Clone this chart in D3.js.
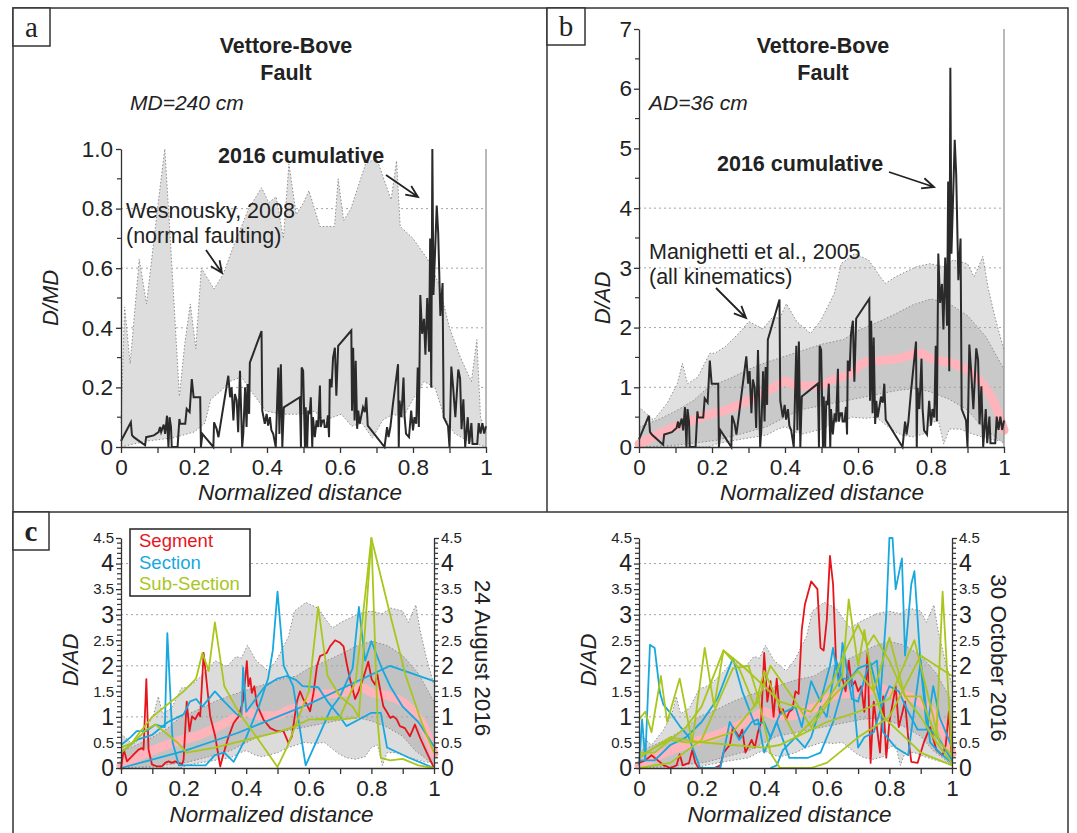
<!DOCTYPE html>
<html>
<head>
<meta charset="utf-8">
<script src="https://cdnjs.cloudflare.com/ajax/libs/d3/7.8.5/d3.min.js"></script>
<style>
  body { margin: 0; background: #fff; }
  svg { display: block; }
</style>
</head>
<body>
<div id="fig"></div>
<script>
// ---- data ----
// 2016 cumulative slip along the Vettore-Bove fault, D/MD
var cumulative = [[0,0.02],[0.027,0.083],[0.03,0.04],[0.035,0.033],[0.066,0.006],[0.069,0.033],[0.09,0.039],[0.103,0.05],[0.107,0.067],[0.11,0.05],[0.117,0.075],[0.121,0.044],[0.126,0.105],[0.13,0],[0.133,0.1],[0.137,0.067],[0.139,0],[0.155,0],[0.16,0.094],[0.162,0.078],[0.176,0.078],[0.18,0.128],[0.188,0.117],[0.194,0.228],[0.199,0.167],[0.217,0.167],[0.219,0],[0.223,0.044],[0.253,0],[0.255,0.083],[0.262,0.061],[0.267,0.033],[0.294,0.239],[0.299,0.167],[0.303,0.2],[0.308,0.089],[0.312,0.178],[0.317,0.156],[0.321,0.05],[0.326,0.256],[0.332,0],[0.335,0.044],[0.34,0.2],[0.344,0.067],[0.347,0.211],[0.351,0.111],[0.353,0.283],[0.385,0.389],[0.387,0.122],[0.394,0.078],[0.399,0.111],[0.403,0.072],[0.408,0.1],[0.412,0.056],[0.417,0.044],[0.424,0],[0.428,0.156],[0.431,0.267],[0.434,0.044],[0.438,0.278],[0.442,0],[0.446,0.133],[0.49,0.167],[0.493,0],[0.495,0.267],[0.499,0.256],[0.504,0],[0.506,0.133],[0.51,0],[0.513,0.122],[0.517,0.111],[0.52,0.167],[0.524,0],[0.526,0.1],[0.531,0.033],[0.536,0.089],[0.54,0.067],[0.545,0.206],[0.547,0.067],[0.552,0.089],[0.556,0.089],[0.558,0.067],[0.563,0.067],[0.567,0.106],[0.57,0.033],[0.572,0.228],[0.577,0.2],[0.581,0.3],[0.586,0.333],[0.59,0.172],[0.595,0.339],[0.631,0.391],[0.633,0.122],[0.636,0.333],[0.64,0.089],[0.643,0.289],[0.647,0.061],[0.65,0.122],[0.654,0.078],[0.663,0.133],[0.668,0.117],[0.672,0.167],[0.676,0.072],[0.722,0],[0.729,0.067],[0.733,0.033],[0.738,0.067],[0.745,0.144],[0.759,0.278],[0.761,0],[0.763,0.156],[0.768,0.1],[0.774,0.233],[0.777,0.1],[0.781,0.044],[0.789,0.033],[0.795,0.122],[0.8,0.056],[0.804,0.1],[0.809,0.078],[0.813,0.267],[0.816,0.067],[0.82,0.51],[0.825,0.38],[0.83,0.43],[0.834,0.31],[0.839,0.5],[0.844,0.32],[0.847,0.7],[0.85,0.2],[0.853,1.0],[0.856,0.51],[0.86,0.64],[0.865,0.81],[0.869,0.72],[0.875,0.44],[0.881,0.55],[0.884,0.1],[0.896,0.07],[0.9,0],[0.905,0.27],[0.91,0.2],[0.916,0.1],[0.924,0.26],[0.929,0.23],[0.933,0.06],[0.938,0.16],[0.943,0],[0.95,0.1],[0.954,0.01],[0.96,0.08],[0.963,0.01],[0.976,0.01],[0.98,0.08],[0.985,0.045],[0.99,0.08],[0.995,0.045],[1,0.07]];
// D/AD of the same profile: the 1.0 spike of panel a reads 6.35 in panel b
var mdToAd = 6.35;

// Wesnousky 2008 envelope (normal faulting), D/MD
var wesUpper = [[0,0.08],[0.01,0.47],[0.025,0.28],[0.05,0.63],[0.07,0.48],[0.1,0.8],[0.12,1.0],[0.135,0.7],[0.16,0.17],[0.175,0.35],[0.19,0.48],[0.205,0.33],[0.22,0.6],[0.255,0.53],[0.28,0.58],[0.31,0.68],[0.35,0.8],[0.385,0.87],[0.405,0.82],[0.425,0.84],[0.445,0.7],[0.46,0.95],[0.48,0.78],[0.5,0.82],[0.515,0.86],[0.545,0.74],[0.585,0.74],[0.595,0.9],[0.61,0.76],[0.63,0.8],[0.67,0.95],[0.7,0.97],[0.74,0.83],[0.755,0.96],[0.765,0.74],[0.8,0.7],[0.84,0.63],[0.87,0.55],[0.9,0.4],[0.93,0.3],[0.96,0.22],[0.975,0.36],[0.985,0.1],[1,0.05]];
var wesLower = [[0,0],[0.07,0.02],[0.14,0.03],[0.2,0.05],[0.23,0.08],[0.246,0.16],[0.275,0.19],[0.298,0.22],[0.33,0.235],[0.355,0.19],[0.373,0.16],[0.397,0.12],[0.444,0.11],[0.49,0.11],[0.53,0.12],[0.557,0.09],[0.604,0.11],[0.632,0.07],[0.66,0.08],[0.689,0.03],[0.717,0.09],[0.745,0.11],[0.773,0.1],[0.8,0.16],[0.83,0.22],[0.86,0.2],[0.886,0.1],[0.914,0.045],[0.952,0.02],[1,0]];

// Manighetti et al. 2005 envelopes (all kinematics), D/AD
var maniOuterUp = [[0,0.67],[0.04,0.45],[0.077,0.73],[0.105,1.06],[0.119,1.4],[0.133,1.06],[0.161,1.17],[0.194,1.57],[0.208,1.57],[0.236,1.68],[0.273,1.9],[0.301,2.1],[0.339,1.98],[0.367,2.18],[0.385,2.15],[0.404,2.4],[0.432,2.1],[0.47,1.9],[0.498,2.12],[0.535,2.57],[0.554,3.07],[0.591,3.24],[0.629,3.13],[0.661,2.85],[0.675,2.74],[0.703,2.85],[0.76,3.02],[0.797,3.07],[0.834,3.02],[0.861,3.13],[0.9,3.07],[0.918,2.85],[0.942,3.19],[0.956,2.68],[0.975,2.18],[1,1.62]];
var maniOuterLo = [[0,0],[0.19,0],[0.21,0.05],[0.26,0.11],[0.3,0.15],[0.35,0.2],[0.38,0.3],[0.4,0.34],[0.43,0.25],[0.45,0.22],[0.5,0.3],[0.53,0.39],[0.56,0.45],[0.585,0.5],[0.62,0.48],[0.65,0.5],[0.67,0.4],[0.695,0.28],[0.72,0.2],[0.75,0.17],[0.78,0.22],[0.8,0.4],[0.82,0.45],[0.835,0.05],[0.85,0.3],[0.88,0.3],[0.913,0.22],[0.95,0.15],[0.97,0.12],[1,0.1]];
var maniInnerUp = [[0,0.33],[0.05,0.45],[0.1,0.6],[0.15,0.78],[0.19,1.0],[0.25,1.15],[0.3,1.3],[0.35,1.42],[0.4,1.52],[0.45,1.62],[0.5,1.72],[0.56,1.8],[0.6,1.95],[0.65,2.08],[0.7,2.22],[0.75,2.38],[0.8,2.48],[0.85,2.4],[0.9,2.2],[0.95,1.85],[1,1.3]];
var maniInnerLo = [[0,0],[0.1,0.03],[0.21,0.11],[0.28,0.22],[0.35,0.34],[0.44,0.62],[0.53,0.73],[0.62,0.84],[0.71,0.95],[0.76,0.98],[0.8,0.92],[0.85,0.8],[0.9,0.62],[0.94,0.34],[1,0.06]];
var maniMedian = [[0,0.05],[0.076,0.28],[0.17,0.5],[0.26,0.67],[0.3,0.78],[0.37,1.0],[0.4,1.1],[0.44,1.02],[0.49,1.02],[0.53,1.12],[0.58,1.23],[0.62,1.42],[0.71,1.48],[0.77,1.57],[0.8,1.48],[0.85,1.42],[0.9,1.29],[0.94,1.06],[0.97,0.78],[1,0.28]];

// 24 August 2016 rupture, D/AD
var augSegment = [[[0,0],[0.009,0.36],[0.019,0.13],[0.03,0.2],[0.04,0.26],[0.056,0.36],[0.067,0.39],[0.072,0.36],[0.081,1.74],[0.088,0.36],[0.099,0.07],[0.115,0.03],[0.131,0.03],[0.141,0.1],[0.152,0.13],[0.163,0.1],[0.173,0.13],[0.184,0.1],[0.195,0.07],[0.2,0.16],[0.21,1.3],[0.219,0.72],[0.227,1.01],[0.237,0.95],[0.248,1.08],[0.253,1.01],[0.264,2.25],[0.274,1.66],[0.285,1.01],[0.301,0.62],[0.317,0.03],[0.328,0.29],[0.344,0.62],[0.36,0.88],[0.376,1.01],[0.391,1.34],[0.402,2.09],[0.407,1.6],[0.413,1.76],[0.418,1.47],[0.426,1.6],[0.434,1.24],[0.455,0.95],[0.477,0.78],[0.498,0.72],[0.519,0.72],[0.535,0.49],[0.546,0.62],[0.562,1.3],[0.572,1.5],[0.583,1.34],[0.594,1.24],[0.604,1.11],[0.615,1.47],[0.626,1.99],[0.636,2.19],[0.647,2.22],[0.657,2.25],[0.668,2.38],[0.684,2.5],[0.7,2.45],[0.711,2.38],[0.721,2.05],[0.732,1.73],[0.748,1.35],[0.759,1.5],[0.774,1.76],[0.79,2.08],[0.801,1.73],[0.812,1.63],[0.819,1.83],[0.828,1.53],[0.838,1.21],[0.849,1.1],[0.86,0.98],[0.87,1.01],[0.881,0.95],[0.891,0.82],[0.907,0.78],[0.923,0.62],[0.939,0.85],[0.955,0.6],[0.977,0.3],[1,0]]];
var augSection = [
  [[0,0],[0.2,0.33],[0.37,0.68],[0.6,1.25],[0.86,2.0],[1,1.7]],
  [[0,0.45],[0.03,0.6],[0.05,0.72],[0.08,0.72],[0.11,0.85],[0.14,0.8],[0.148,2.64],[0.165,0.5],[0.185,0.05],[0.27,0.05],[0.3,0.25],[0.33,0.3],[0.36,0.12],[0.4,0.6],[0.44,1.2],[0.47,1.75],[0.485,2.3],[0.5,3.45],[0.52,2.0],[0.55,1.6],[0.59,0.05],[0.63,0.6],[0.67,1.15],[0.7,1.4],[0.74,1.95],[0.76,3.15],[0.78,2.1],[0.8,2.48],[0.83,2.0],[0.86,1.6],[0.9,1.2],[0.95,0.9],[1,0.42]],
  [[0,0.3],[0.05,0.55],[0.1,0.65],[0.15,0.9],[0.2,1.05],[0.22,1.3],[0.24,1.35],[0.26,1.2],[0.3,1.5],[0.33,1.3],[0.37,1.05],[0.385,1.0],[0.39,1.97],[0.4,1.1],[0.43,1.35],[0.46,1.6],[0.5,1.75],[0.53,1.8],[0.56,1.72],[0.58,1.6],[0.63,1.58],[0.66,1.3],[0.7,1.0],[0.72,0.82],[0.76,0.95],[0.8,1.08],[0.83,1.08],[0.85,0.4],[0.92,0.2],[1,0]]
];
var augSubSection = [
  [[0,0.3],[0.03,0.45],[0.06,0.7],[0.1,1.0],[0.15,1.25],[0.2,1.5],[0.24,1.75],[0.26,2.25],[0.28,1.9],[0.3,2.85],[0.33,1.6],[0.38,1.05],[0.44,0.55],[0.5,0.02],[0.53,0.4],[0.6,1.5],[0.63,3.15],[0.66,1.8],[0.7,1.4],[0.74,1.2],[0.76,1.0],[0.8,4.5],[0.82,0.9],[0.83,0.2],[0.86,0.15],[0.9,0.18],[0.95,0.05],[1,0]],
  [[0,0.4],[0.04,0.5],[0.08,0.75],[0.11,0.85],[0.14,0.7],[0.18,0.5],[0.21,0.3],[0.3,0.4],[0.4,0.55],[0.5,0.7],[0.55,0.8],[0.6,0.95],[0.7,0.95],[0.75,0.98]],
  [[0.62,0.95],[0.7,1.0],[0.75,1.7],[0.8,4.5],[0.86,3.0],[0.91,1.8],[0.96,0.9],[1,0.3]]
];

// 30 October 2016 rupture, D/AD
var octSegment = [[[0,0.1],[0.02,0.15],[0.04,0.25],[0.06,0.15],[0.08,0.05],[0.1,0],[0.12,0.05],[0.13,0.27],[0.14,0.05],[0.16,0.1],[0.17,0.35],[0.18,0.1],[0.19,0],[0.24,0],[0.26,0.05],[0.27,0.3],[0.29,0.45],[0.3,0.8],[0.31,0.7],[0.32,0.6],[0.33,0.75],[0.34,0.3],[0.36,0.55],[0.37,0.4],[0.38,0.7],[0.39,0.9],[0.4,2.25],[0.41,1.3],[0.42,1.7],[0.43,1.0],[0.44,1.75],[0.45,1.05],[0.46,1.15],[0.47,0.95],[0.48,1.1],[0.49,1.15],[0.5,1.5],[0.51,1.45],[0.52,2.7],[0.53,3.2],[0.55,3.65],[0.57,3.5],[0.58,2.35],[0.59,2.3],[0.6,2.9],[0.61,4.15],[0.62,3.6],[0.63,2.0],[0.64,1.7],[0.65,1.75],[0.66,1.5],[0.67,2.1],[0.68,1.6],[0.69,1.7],[0.7,1.5],[0.71,1.6],[0.72,1.1],[0.73,2.25],[0.74,0.1],[0.75,1.3],[0.76,0.8],[0.77,0.3],[0.78,1.4],[0.79,0.2],[0.8,0.9],[0.82,1.6],[0.83,0.8],[0.85,1.3],[0.86,0.6],[0.87,0.12],[0.89,0.1],[0.91,0.5],[0.93,0.8],[0.95,0.35],[0.97,0.25],[0.98,0.45],[0.99,1.1],[1,0.1]]];
var octSection = [
  [[0,0.05],[0.01,0.95],[0.02,0.15],[0.035,2.41],[0.05,2.35],[0.067,1.47],[0.078,1.24],[0.1,1.08],[0.13,0.82],[0.158,0.62],[0.195,0]],
  [[0,0.15],[0.05,0.15],[0.1,0.45],[0.15,0.6],[0.2,0.9],[0.25,1.35],[0.3,2.15],[0.33,1.5],[0.37,0.85],[0.4,0.9],[0.42,0.6],[0.45,1.05],[0.5,1.2],[0.52,0.8],[0.55,1.7],[0.58,1.3],[0.61,2.0],[0.62,2.35],[0.64,1.6],[0.65,2.45],[0.68,1.35],[0.7,1.3],[0.73,1.95],[0.76,2.1],[0.78,0.7],[0.82,0.4],[0.86,0.25],[0.9,2.1],[0.93,0.5],[0.96,0.3],[1,0.1]],
  [[0.2,0],[0.26,0],[0.29,0.9],[0.32,0.55],[0.36,0.9],[0.38,0.95],[0.4,0.3],[0.42,0.6],[0.44,0.9],[0.46,0.55],[0.48,0.2],[0.5,0.2],[0.54,0.2],[0.58,0.3],[0.62,0.9],[0.65,1.55],[0.7,1.95],[0.74,2.05],[0.77,1.3],[0.79,3.0],[0.8,4.5],[0.81,4.5],[0.82,3.5],[0.84,4.1],[0.85,2.2],[0.87,3.6],[0.88,3.85],[0.9,2.0],[0.92,0.75],[0.94,1.6],[0.96,1.0],[1,0.4]],
  [[0.42,0],[0.44,0.05],[0.46,0.35],[0.5,0.6],[0.53,0.4],[0.55,0.6],[0.58,1.2],[0.6,1.0],[0.63,2.1],[0.65,1.75],[0.68,1.75],[0.7,0.4],[0.72,0.6],[0.75,0.7],[0.78,1.3],[0.8,1.6],[0.83,1.5],[0.86,1.1],[0.89,0.75],[0.93,0.75],[0.96,0.55],[1,0.15]]
];
var octSubSection = [
  [[0,0.95],[0.02,1.1],[0.04,0.7],[0.07,1.8],[0.09,0.9],[0.13,1.75],[0.17,0.5],[0.21,2.35],[0.24,1.2],[0.27,2.3],[0.32,1.95],[0.37,1.2],[0.4,1.9],[0.45,1.2],[0.5,0.6],[0.55,0.9],[0.6,1.3],[0.65,1.8],[0.67,3.3],[0.7,2.0],[0.72,2.7],[0.75,1.5],[0.78,1.0],[0.85,0.6],[0.9,0.3],[1,0.05]],
  [[0,0.2],[0.05,0.4],[0.1,0.55],[0.15,0.8],[0.2,1.2],[0.27,2.3],[0.33,2.0],[0.4,1.6],[0.45,1.3],[0.5,1.2],[0.55,1.1],[0.62,1.7],[0.66,2.3],[0.7,2.8],[0.73,2.4],[0.75,2.6],[0.8,2.1],[0.85,1.4],[0.9,1.4],[0.95,0.6],[0.97,3.45],[1,0.2]],
  [[0,0.3],[0.05,0.3],[0.1,0.55],[0.15,0.5],[0.2,0.5],[0.3,0.45],[0.4,0.4],[0.45,0.45],[0.5,0.6],[0.6,0.9],[0.7,1.1],[0.8,1.35],[0.88,2.5],[0.92,1.5],[0.96,0.5],[1,0.25]],
  [[0,0],[0.1,0.1],[0.2,0.55],[0.3,1.95],[0.35,2.0],[0.38,1.4],[0.42,0.3],[0.45,0],[0.55,0],[0.6,0.1],[0.7,0.6],[0.8,1.0],[0.9,2.2],[0.95,2.0],[1,1.8]],
  [[0,0.2],[0.1,0.6],[0.2,0.5],[0.3,0.7],[0.38,1.3],[0.42,2.0],[0.5,1.3],[0.55,0.8],[0.62,1.4],[0.7,1.9],[0.75,1.5],[0.8,2.55],[0.85,1.4],[0.9,1.0],[0.95,0.5],[1,0.1]]
];

var legendNames = ["Segment", "Section", "Sub-Section"];
var legendColors = ["#e8141c", "#16a8df", "#a8c61c"];
var tenths = d3.range(11).map(function(i) { return i / 10; });

// ---- drawing ----
var FONT = "'Liberation Sans', Arial, sans-serif";
var svg = d3.select("#fig").append("svg")
    .attr("width", 1077).attr("height", 833)
    .style("font-family", FONT);
svg.append("rect").attr("width", 1077).attr("height", 833).attr("fill", "#fff");

var line = function(x, y) {
  return d3.line().x(function(d) { return x(d[0]); }).y(function(d) { return y(d[1]); });
};
var fmtX = function(d) { return d === 0 ? "0" : d === 1 ? "1" : d3.format(".1f")(d); };
var plain = function(d) { return String(d); };

function band(g, x, y, upper, lower, fill) {
  g.append("path")
      .attr("d", line(x, y)(upper.concat(lower.slice().reverse())) + "Z")
      .attr("fill", fill);
  [upper, lower].forEach(function(e) {
    g.append("path").attr("d", line(x, y)(e))
        .attr("fill", "none").attr("stroke", "#8e8e8e")
        .attr("stroke-width", 1).attr("stroke-dasharray", "1.5,2");
  });
}

// dotted horizontal gridlines at pixel positions ys
function grid(g, x, ys) {
  g.selectAll(null).data(ys).enter().append("line")
      .attr("x1", x.range()[0]).attr("x2", x.range()[1])
      .attr("y1", function(d) { return d; }).attr("y2", function(d) { return d; })
      .attr("stroke", "#a5a5a5").attr("stroke-width", 1).attr("stroke-dasharray", "2,3");
}

function styleAxis(a) {
  a.attr("font-family", FONT).attr("font-size", 22.5);
  a.selectAll("path, line").attr("stroke", "#333").attr("stroke-width", 1.3);
  a.selectAll("text").attr("fill", "#222");
}

function xAxis(g, x, y) {
  g.append("g").attr("transform", "translate(0," + y(0) + ")")
      .call(d3.axisBottom(x).tickValues(tenths).tickSize(6).tickSizeOuter(0).tickPadding(6)
        .tickFormat(function(d, i) { return i % 2 ? "" : fmtX(d); }))
      .call(styleAxis);
}

function minorTicks(g, x0, ys, dir) {
  g.selectAll(null).data(ys).enter().append("line")
      .attr("x1", x0).attr("x2", x0 + dir * 4)
      .attr("y1", function(d) { return d; }).attr("y2", function(d) { return d; })
      .attr("stroke", "#333").attr("stroke-width", 1.2);
}

function text(g, s, x, y, opt) {
  opt = opt || {};
  return g.append("text").attr("x", x).attr("y", y).text(s)
      .attr("font-size", opt.size || 21.5)
      .attr("font-weight", opt.bold ? "bold" : null)
      .attr("font-style", opt.italic ? "italic" : null)
      .attr("text-anchor", opt.anchor || "start")
      .attr("fill", opt.fill || "#222");
}

function arrow(g, x1, y1, x2, y2) {
  var a = Math.atan2(y2 - y1, x2 - x1), L = 13, s = 0.42;
  g.append("path")
      .attr("d", "M" + x1 + "," + y1 + "L" + x2 + "," + y2 +
        "M" + (x2 - L * Math.cos(a - s)) + "," + (y2 - L * Math.sin(a - s)) +
        "L" + x2 + "," + y2 +
        "L" + (x2 - L * Math.cos(a + s)) + "," + (y2 - L * Math.sin(a + s)))
      .attr("fill", "none").attr("stroke", "#222").attr("stroke-width", 1.8);
}

function letterBox(x, y, w, h, s, bold) {
  svg.append("rect").attr("x", x).attr("y", y).attr("width", w).attr("height", h)
      .attr("fill", "#fff").attr("stroke", "#333").attr("stroke-width", 1.5);
  svg.append("text").attr("x", x + w / 2).attr("y", y + h - 9).text(s)
      .attr("text-anchor", "middle").attr("font-size", 29)
      .attr("font-family", "'Liberation Serif', 'Times New Roman', serif")
      .attr("font-weight", bold ? "bold" : null).attr("fill", "#222");
}

// frame
svg.append("rect").attr("x", 13).attr("y", 8).attr("width", 1055).attr("height", 840)
    .attr("fill", "none").attr("stroke", "#333").attr("stroke-width", 1.5);
svg.append("line").attr("x1", 547).attr("x2", 547).attr("y1", 8).attr("y2", 512)
    .attr("stroke", "#333").attr("stroke-width", 1.5);
svg.append("line").attr("x1", 13).attr("x2", 1068).attr("y1", 512).attr("y2", 512)
    .attr("stroke", "#333").attr("stroke-width", 1.5);

// ---- panel a ----
(function() {
  var g = svg.append("g");
  var x = d3.scaleLinear().domain([0, 1]).range([121, 486]);
  var y = d3.scaleLinear().domain([0, 1]).range([447, 149]);
  grid(g, x, [0.2, 0.4, 0.6, 0.8].map(y));
  band(g, x, y, wesUpper, wesLower, "#dcdddc");
  g.append("line").attr("x1", x(1)).attr("x2", x(1)).attr("y1", y(0)).attr("y2", y(1))
      .attr("stroke", "#8a8a8a").attr("stroke-width", 1.2);
  g.append("path").datum(cumulative).attr("d", line(x, y))
      .attr("fill", "none").attr("stroke", "#2a2a2a").attr("stroke-width", 2);
  xAxis(g, x, y);
  g.append("g").attr("transform", "translate(" + x(0) + ",0)")
      .call(d3.axisLeft(y).tickValues([0, 0.2, 0.4, 0.6, 0.8, 1]).tickSize(5).tickSizeOuter(0).tickPadding(3)
        .tickFormat(function(d) { return d === 0 ? "0" : d3.format(".1f")(d); }))
      .call(styleAxis);
  minorTicks(g, x(0), [0.1, 0.3, 0.5, 0.7, 0.9].map(y), -1);

  text(g, "Vettore-Bove", 286, 53, {bold: true, anchor: "middle"});
  text(g, "Fault", 286, 80, {bold: true, anchor: "middle"});
  text(g, "MD=240 cm", 130, 110, {italic: true, size: 21});
  text(g, "2016 cumulative", 218, 163, {bold: true});
  arrow(g, 386, 175, 418, 197);
  text(g, "Wesnousky, 2008", 126, 218, {size: 21.5});
  text(g, "(normal faulting)", 126, 243, {size: 21.5});
  arrow(g, 206, 250, 222, 273);
  text(g, "D/MD", 58, 298, {italic: true, anchor: "middle", size: 22})
      .attr("transform", "rotate(-90,58,298)");
  text(g, "Normalized distance", 300, 500, {italic: true, anchor: "middle", size: 22.5});
})();

// ---- panel b ----
(function() {
  var g = svg.append("g");
  var x = d3.scaleLinear().domain([0, 1]).range([639, 1004]);
  var y = d3.scaleLinear().domain([0, 7]).range([447, 29]);
  band(g, x, y, maniOuterUp, maniOuterLo, "#dfe0df");
  band(g, x, y, maniInnerUp, maniInnerLo, "#c8c9c8");
  grid(g, x, [1, 2, 3, 4].map(y));
  g.append("path").datum(maniMedian).attr("d", line(x, y).curve(d3.curveMonotoneX))
      .attr("fill", "none").attr("stroke", "#ffb4bc").attr("stroke-width", 9)
      .attr("stroke-linecap", "round");
  g.append("line").attr("x1", x(1)).attr("x2", x(1)).attr("y1", y(0)).attr("y2", y(7))
      .attr("stroke", "#8a8a8a").attr("stroke-width", 1.2);
  g.append("path").datum(cumulative.map(function(d) { return [d[0], d[1] * mdToAd]; }))
      .attr("d", line(x, y))
      .attr("fill", "none").attr("stroke", "#2a2a2a").attr("stroke-width", 2);
  xAxis(g, x, y);
  g.append("g").attr("transform", "translate(" + x(0) + ",0)")
      .call(d3.axisLeft(y).tickValues(d3.range(8)).tickFormat(plain)
        .tickSize(5).tickSizeOuter(0).tickPadding(2))
      .call(styleAxis);
  minorTicks(g, x(0), d3.range(7).map(function(i) { return y(i + 0.5); }), -1);

  text(g, "Vettore-Bove", 823, 53, {bold: true, anchor: "middle"});
  text(g, "Fault", 823, 80, {bold: true, anchor: "middle"});
  text(g, "AD=36 cm", 649, 110, {italic: true, size: 21});
  text(g, "2016 cumulative", 717, 171, {bold: true});
  arrow(g, 889, 172, 934, 187);
  text(g, "Manighetti et al., 2005", 649, 259, {size: 21.5});
  text(g, "(all kinematics)", 649, 284, {size: 21.5});
  arrow(g, 716, 288, 746, 318);
  text(g, "D/AD", 610, 298, {italic: true, anchor: "middle", size: 22})
      .attr("transform", "rotate(-90,610,298)");
  text(g, "Normalized distance", 822, 500, {italic: true, anchor: "middle", size: 22.5});
})();

// ---- panel c ----
function ratePanel(x0, x1, seg, sec, sub, date, dateX, titleX) {
  var g = svg.append("g");
  var x = d3.scaleLinear().domain([0, 1]).range([x0, x1]);
  var y = d3.scaleLinear().domain([0, 4.5]).range([768, 538]);
  band(g, x, y, maniOuterUp, maniOuterLo, "#dcdcdc");
  band(g, x, y, maniInnerUp, maniInnerLo, "#c2c2c2");
  grid(g, x, [1, 2, 3, 4].map(y));
  g.append("path").datum(maniMedian).attr("d", line(x, y).curve(d3.curveMonotoneX))
      .attr("fill", "none").attr("stroke", "#ffb4bc").attr("stroke-width", 9)
      .attr("stroke-linecap", "round");
  [seg, sec, sub].forEach(function(set, k) {
    g.selectAll(null).data(set).enter().append("path")
        .attr("d", line(x, y))
        .attr("fill", "none").attr("stroke", legendColors[k])
        .attr("stroke-width", 1.8).attr("stroke-linejoin", "round");
  });
  xAxis(g, x, y);
  var halves = d3.range(10).map(function(i) { return i / 2; });
  var minor = d3.range(46).map(function(i) { return i / 10; })
      .filter(function(d, i) { return i % 5; });
  var sizeOf = function(d) { return Number.isInteger(d) ? 23 : 15; };
  g.append("g").attr("transform", "translate(" + x0 + ",0)")
      .call(d3.axisLeft(y).tickValues(halves).tickFormat(plain)
        .tickSize(5).tickSizeOuter(0).tickPadding(2))
      .call(styleAxis)
      .selectAll("text").attr("font-size", sizeOf);
  g.append("g").attr("transform", "translate(" + x1 + ",0)")
      .call(d3.axisRight(y).tickValues(halves).tickFormat(plain)
        .tickSize(5).tickSizeOuter(0).tickPadding(2))
      .call(styleAxis)
      .selectAll("text").attr("font-size", sizeOf);
  minorTicks(g, x0, minor.map(y), -1);
  minorTicks(g, x1, minor.map(y), 1);
  text(g, "D/AD", titleX, 660, {italic: true, anchor: "middle", size: 22})
      .attr("transform", "rotate(-90," + titleX + ",660)");
  text(g, date, dateX, 658, {anchor: "middle", size: 22.5})
      .attr("transform", "rotate(90," + dateX + ",658)");
  text(g, "Normalized distance", (x0 + x1) / 2 - 6, 822, {italic: true, anchor: "middle", size: 22.5});
  return g;
}

var left = ratePanel(121, 434, augSegment, augSection, augSubSection, "24 August 2016", 475, 78);
ratePanel(639, 952, octSegment, octSection, octSubSection, "30 October 2016", 991, 596);

// legend
left.append("rect").attr("x", 130).attr("y", 529).attr("width", 120).attr("height", 67)
    .attr("fill", "#fff").attr("stroke", "#222").attr("stroke-width", 1.5);
legendNames.forEach(function(n, i) {
  text(left, n, 139, 547 + i * 21.5, {size: 18.5, fill: legendColors[i]});
});

letterBox(13, 8, 37, 38, "a");
letterBox(547, 8, 38, 37, "b");
letterBox(13, 512, 36, 38, "c", true);
</script>
</body>
</html>
